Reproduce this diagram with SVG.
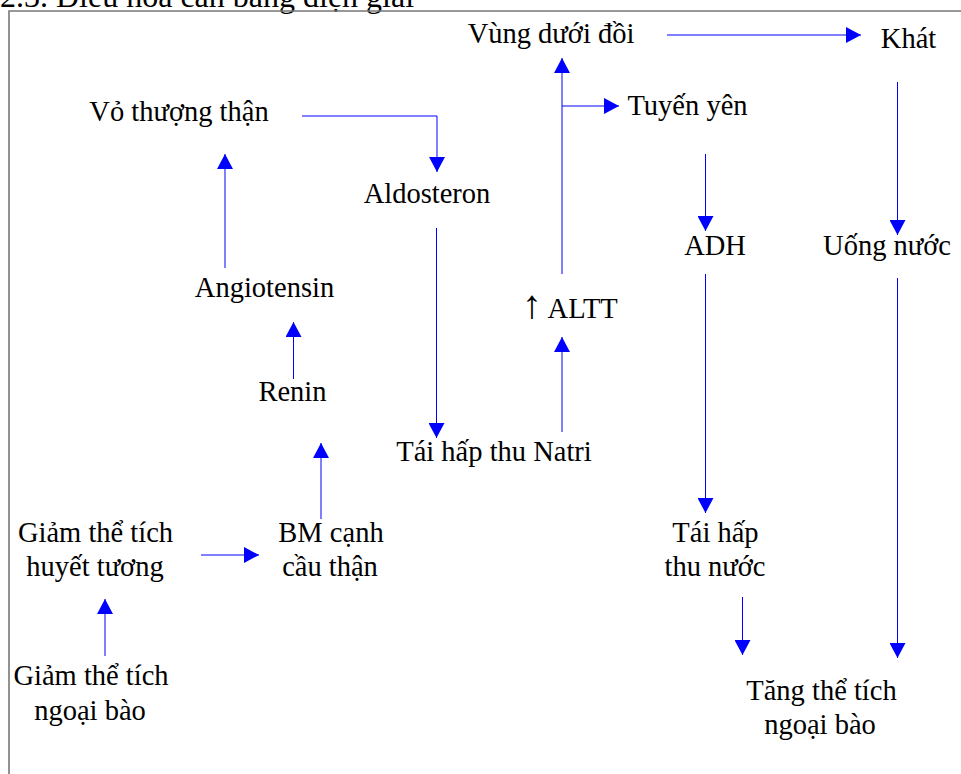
<svg xmlns="http://www.w3.org/2000/svg" width="961" height="774" viewBox="0 0 961 774">
<style>
  text { font-family: "Liberation Serif", "Times New Roman", serif; font-size: 28.5px; fill: #000; text-anchor: middle; }
  .title { font-size: 32px; text-anchor: start; }
  .c { fill: none; stroke: #0000ff; stroke-width: 1; marker-end: url(#ah); }
</style>
<defs>
  <marker id="ah" viewBox="0 0 15 16" refX="15" refY="8" markerWidth="15" markerHeight="16" orient="auto" markerUnits="userSpaceOnUse">
    <path d="M0,0 L15,8 L0,16 Z" fill="#0000ff"/>
  </marker>
</defs>
<rect width="961" height="774" fill="#fff"/>
<text class="title" x="0" y="7">2.3. Điều hòa cân bằng điện giải</text>
<path d="M9,774 V11 H961" fill="none" stroke="#777" stroke-width="1.6"/>

<g id="connectors">
  <path class="c" d="M667,35 H861"/>
  <path class="c" d="M562,274 V58"/>
  <path class="c" d="M562,106 H619"/>
  <path class="c" d="M302,116 H437 V172"/>
  <path class="c" d="M436.5,228 V438"/>
  <path class="c" d="M562,432 V337"/>
  <path class="c" d="M225,268 V154"/>
  <path class="c" d="M293.5,379 V322"/>
  <path class="c" d="M321,519 V443"/>
  <path class="c" d="M201,555 H259"/>
  <path class="c" d="M105,656 V599"/>
  <path class="c" d="M705.5,154 V231"/>
  <path class="c" d="M705.5,274 V513"/>
  <path class="c" d="M742.5,597 V655"/>
  <path class="c" d="M897.5,82 V235"/>
  <path class="c" d="M897.5,278 V658"/>
</g>

<g id="vung-duoi-doi"><text x="551" y="43">Vùng dưới đồi</text></g>
<g id="khat"><text x="908.5" y="48">Khát</text></g>
<g id="tuyen-yen"><text x="687.5" y="115">Tuyến yên</text></g>
<g id="vo-thuong-than"><text x="179" y="121">Vỏ thượng thận</text></g>
<g id="aldosteron"><text x="427" y="203">Aldosteron</text></g>
<g id="altt"><text x="522" y="318" style="text-anchor:start"><tspan style="font-size:40px">↑</tspan> ALTT</text></g>
<g id="angiotensin"><text x="264.5" y="297">Angiotensin</text></g>
<g id="renin"><text x="292.5" y="401">Renin</text></g>
<g id="tai-hap-thu-natri"><text x="494" y="461">Tái hấp thu Natri</text></g>
<g id="bm-canh-cau-than"><text x="331" y="542">BM cạnh</text><text x="330" y="576">cầu thận</text></g>
<g id="giam-the-tich-huyet-tuong"><text x="95.5" y="542">Giảm thể tích</text><text x="95" y="576">huyết tương</text></g>
<g id="giam-the-tich-ngoai-bao"><text x="91" y="685">Giảm thể tích</text><text x="90" y="720">ngoại bào</text></g>
<g id="adh"><text x="715" y="255">ADH</text></g>
<g id="uong-nuoc"><text x="887" y="255">Uống nước</text></g>
<g id="tai-hap-thu-nuoc"><text x="715.5" y="542">Tái hấp</text><text x="715" y="576">thu nước</text></g>
<g id="tang-the-tich-ngoai-bao"><text x="821.5" y="700">Tăng thể tích</text><text x="820" y="734">ngoại bào</text></g>
</svg>
